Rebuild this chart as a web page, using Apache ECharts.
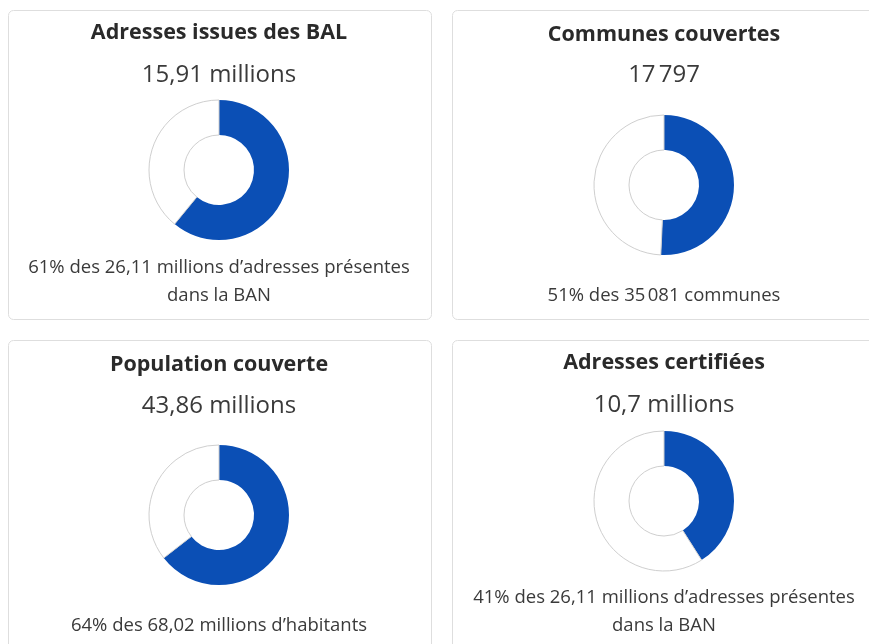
<!DOCTYPE html>
<html>
<head>
<meta charset="utf-8">
<script src="https://cdn.jsdelivr.net/npm/echarts@6/dist/echarts.min.js"></script>
<style>
  html, body { margin: 0; padding: 0; background: #fff; }
  #main { width: 869px; height: 644px; }
</style>
</head>
<body>
<div id="main"></div>
<script>
// card contents
var titles = ['Adresses issues des BAL', 'Communes couvertes', 'Population couverte', 'Adresses certifiées'];
var valueLabels = ['15,91 millions', '17\u202f797', '43,86 millions', '10,7 millions'];
var covered = [15.91, 17797, 43.86, 10.7];
var totals = [26.11, 35081, 68.02, 26.11];
var footnotes = [
  '61% des 26,11 millions d\u2019adresses présentes\ndans la BAN',
  '51% des 35\u202f081 communes',
  '64% des 68,02 millions d\u2019habitants',
  '41% des 26,11 millions d\u2019adresses présentes\ndans la BAN'
];

var blue = '#0b4fb5';
var font = 'Open Sans';

// layout of the 4 cards
var cards = [
  { x: 8, y: 10, w: 423, h: 309, cx: 219, titleY: 33, valueY: 75, pieY: 170, noteY: 268 },
  { x: 452, y: 10, w: 440, h: 309, cx: 664, titleY: 35, valueY: 75, pieY: 185, noteY: 296 },
  { x: 8, y: 340, w: 423, h: 320, cx: 219, titleY: 365, valueY: 406, pieY: 515, noteY: 626 },
  { x: 452, y: 340, w: 440, h: 320, cx: 664, titleY: 363, valueY: 405, pieY: 501, noteY: 598 }
];

var title = [];
var series = [];
var graphic = [];

cards.forEach(function (c, i) {
  graphic.push({
    type: 'rect', z: -1, silent: true,
    shape: { x: c.x + 0.5, y: c.y + 0.5, width: c.w, height: c.h, r: 5 },
    style: { fill: '#fff', stroke: '#dedede', lineWidth: 1 }
  });
  title.push({
    text: titles[i], left: c.cx, top: c.titleY, textAlign: 'center', textVerticalAlign: 'middle',
    padding: 0,
    textStyle: { fontFamily: font, fontWeight: 'bold', fontSize: 21.5, color: '#2a2a2a' }
  });
  title.push({
    text: valueLabels[i], left: c.cx, top: c.valueY, textAlign: 'center', textVerticalAlign: 'middle',
    padding: 0,
    textStyle: { fontFamily: font, fontWeight: 'normal', fontSize: 24, color: '#3a3a3a' }
  });
  title.push({
    text: footnotes[i], left: c.cx, top: c.noteY - 14, textAlign: 'center', textVerticalAlign: 'top',
    padding: 0,
    textStyle: { fontFamily: font, fontWeight: 'normal', fontSize: 18.5, lineHeight: 28, color: '#3a3a3a' }
  });
  series.push({
    type: 'pie',
    center: [c.cx, c.pieY],
    radius: [35, 70],
    startAngle: 90,
    clockwise: true,
    silent: true,
    label: { show: false },
    labelLine: { show: false },
    emphasis: { disabled: true },
    data: [
      { value: covered[i], itemStyle: { color: blue, borderWidth: 0 } },
      { value: totals[i] - covered[i], itemStyle: { color: '#fff', borderColor: '#cfcfcf', borderWidth: 1 } }
    ]
  });
});

var chart = echarts.init(document.getElementById('main'));
chart.setOption({
  animation: false,
  title: title,
  graphic: graphic,
  series: series
});
</script>
</body>
</html>
